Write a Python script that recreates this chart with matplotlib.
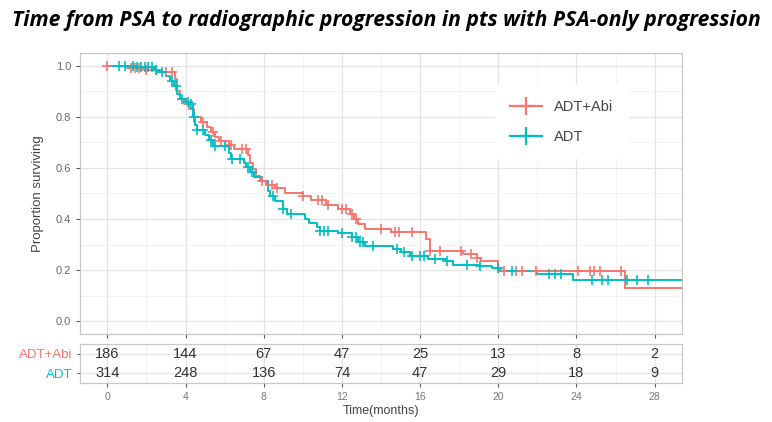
import numpy as np
import matplotlib
matplotlib.use('Agg')
import matplotlib.pyplot as plt
from matplotlib.ticker import MultipleLocator

# Kaplan-Meier step curves
abi_t = [0.0, 1.0, 2.0, 2.6, 3.45, 3.55, 3.7, 3.9, 4.2, 4.45, 4.8, 5.1, 5.3, 5.5, 5.7,
         6.2, 6.5, 7.2, 7.3, 7.45, 7.6, 7.8, 8.1, 8.6, 9.1, 10.0, 10.4, 11.2, 11.8,
         12.4, 12.6, 12.8, 13.2, 14.5, 16.3, 16.5, 18.2, 18.9, 19.1, 20.0, 26.5]
abi_s = [1.0, 0.993, 0.985, 0.976, 0.95, 0.90, 0.87, 0.85, 0.83, 0.80, 0.78, 0.76, 0.74, 0.72, 0.705,
         0.69, 0.675, 0.65, 0.62, 0.595, 0.57, 0.55, 0.535, 0.52, 0.50, 0.49, 0.475, 0.455, 0.44,
         0.42, 0.40, 0.38, 0.36, 0.348, 0.32, 0.275, 0.262, 0.248, 0.235, 0.196, 0.131]
abi_cens = [0.0, 1.2, 1.4, 1.6, 2.0, 2.5, 3.0, 3.3, 4.9, 5.4, 5.8, 6.3, 6.9, 7.1, 7.9, 8.4, 8.7,
            10.0, 10.8, 11.0, 11.3, 12.0, 12.2, 12.5, 12.7, 14.0, 14.7, 14.9, 15.6, 16.5, 17.0,
            18.1, 18.6, 18.9, 20.3, 20.9, 21.2, 21.95, 24.1, 24.7, 24.9, 25.2, 26.3]

adt_t = [0.0, 1.4, 2.4, 2.7, 3.0, 3.2, 3.4, 3.55, 3.7, 4.0, 4.3, 4.4, 4.5, 4.6, 5.0, 5.2, 5.4,
         6.2, 6.3, 7.0, 7.1, 7.3, 7.5, 7.9, 8.2, 8.3, 8.6, 9.0, 9.2, 10.1, 10.3, 10.7, 10.9,
         11.8, 12.5, 12.8, 13.2, 14.6, 15.0, 15.5, 16.4, 17.3, 17.7, 19.0, 19.7, 20.1, 22.0, 23.8]
adt_s = [1.0, 0.995, 0.985, 0.975, 0.96, 0.94, 0.92, 0.89, 0.87, 0.86, 0.85, 0.80, 0.77, 0.75, 0.73, 0.71, 0.686,
         0.66, 0.634, 0.62, 0.605, 0.585, 0.565, 0.55, 0.51, 0.49, 0.47, 0.44, 0.418, 0.40, 0.385, 0.37, 0.355,
         0.345, 0.33, 0.31, 0.295, 0.281, 0.27, 0.255, 0.242, 0.235, 0.222, 0.216, 0.208, 0.196, 0.183, 0.163]
adt_cens = [0.6, 0.9, 1.3, 1.5, 1.7, 1.9, 2.1, 2.3, 2.5, 2.8, 3.3, 3.5, 3.8, 4.1, 4.3, 4.45, 4.6, 4.9,
            5.3, 5.5, 6.0, 6.4, 6.8, 7.2, 7.4, 8.45, 9.0, 9.4, 10.9, 11.1, 11.3, 12.0, 12.5, 12.7,
            12.9, 13.1, 13.6, 14.8, 15.2, 15.6, 16.0, 16.2, 16.75, 17.4, 18.4, 19.05, 20.0, 20.7,
            22.6, 22.9, 23.2, 24.8, 25.3, 25.6, 26.6, 27.1, 27.65]

# number at risk
risk_times = [0, 4, 8, 12, 16, 20, 24, 28]
abi_risk = [186, 144, 67, 47, 25, 13, 8, 2]
adt_risk = [314, 248, 136, 74, 47, 29, 18, 9]

groups = ['ADT+Abi', 'ADT']
colors = ['#F8766D', '#00BFC4']
t_end = 29.4

plt.rcParams['font.family'] = ['Liberation Sans', 'DejaVu Sans']


def step_value(times, surv, x):
    idx = np.searchsorted(times, x, side='right') - 1
    return np.asarray(surv)[idx]


def style_grid(ax):
    ax.xaxis.set_major_locator(MultipleLocator(4))
    ax.xaxis.set_minor_locator(MultipleLocator(2))
    ax.grid(True, which='major', color='#E3E3E3', lw=0.9)
    ax.grid(True, which='minor', color='#F0F0F0', lw=0.6)
    ax.set_axisbelow(True)
    for sp in ax.spines.values():
        sp.set_color('#C8C8C8')
        sp.set_linewidth(0.9)
    ax.tick_params(which='minor', length=0)
    ax.tick_params(which='major', color='#555555', length=3, width=0.8,
                   labelsize=7.5, labelcolor='#777777')


fig = plt.figure(figsize=(7.72, 4.22), dpi=100)
fig.patch.set_facecolor('white')

ax = fig.add_axes([80 / 772, 1 - 334 / 422, 602 / 772, 281 / 422])
style_grid(ax)
ax.yaxis.set_minor_locator(MultipleLocator(0.1))
ax.set_xlim(-1.4, t_end)
ax.set_ylim(-0.05, 1.05)
ax.set_yticks([0, 0.2, 0.4, 0.6, 0.8, 1.0])
ax.set_yticklabels(['0.0', '0.2', '0.4', '0.6', '0.8', '1.0'])
ax.tick_params(axis='y', labelsize=8, labelcolor='#6A6A6A')
ax.tick_params(axis='x', labelbottom=False)

series = [(abi_t, abi_s, abi_cens), (adt_t, adt_s, adt_cens)]
for (t, s, c), name, col in zip(series, groups, colors):
    tt = list(t) + [t_end]
    ss = list(s) + [s[-1]]
    ax.step(tt, ss, where='post', color=col, lw=1.4, zorder=3)
    ax.plot(c, step_value(t, s, c), ls='none', marker='+', ms=7, mew=1.2,
            color=col, zorder=4)
    ax.plot([], [], color=col, lw=1.6, marker='+', ms=13, mew=1.6, label=name)

ax.set_ylabel('Proportion surviving', fontsize=9.5, color='#444444', labelpad=8)
leg = ax.legend(loc='center', bbox_to_anchor=(0.8, 0.755), frameon=True, fontsize=10.5,
                handlelength=2.2, labelspacing=1.1, borderpad=1.0, edgecolor='white',
                framealpha=1)
for txt in leg.get_texts():
    txt.set_color('#444444')

# risk table
axr = fig.add_axes([80 / 772, 1 - 383 / 422, 602 / 772, 39 / 422])
style_grid(axr)
axr.set_xlim(-1.4, t_end)
axr.set_ylim(0.5, 2.5)
axr.set_yticks([1, 2])
axr.set_yticklabels(groups[::-1], fontsize=9.5)
for lab, col in zip(axr.get_yticklabels(), colors[::-1]):
    lab.set_color(col)
axr.tick_params(axis='y', length=2)
axr.set_xticks(risk_times)
for x, a, b in zip(risk_times, abi_risk, adt_risk):
    axr.text(x, 2, str(a), ha='center', va='center', fontsize=10.5, color='#333333')
    axr.text(x, 1, str(b), ha='center', va='center', fontsize=10.5, color='#333333')
axr.set_xlabel('Time(months)', fontsize=9, color='#444444', labelpad=2)

fig.text(0.5, 0.952, 'Time from PSA to radiographic progression in pts with PSA-only progression',
         ha='center', va='center', fontsize=15.2, fontweight='bold', fontstyle='italic',
         family=['Open Sans', 'DejaVu Sans'])

fig.savefig('out.png', dpi=100)
